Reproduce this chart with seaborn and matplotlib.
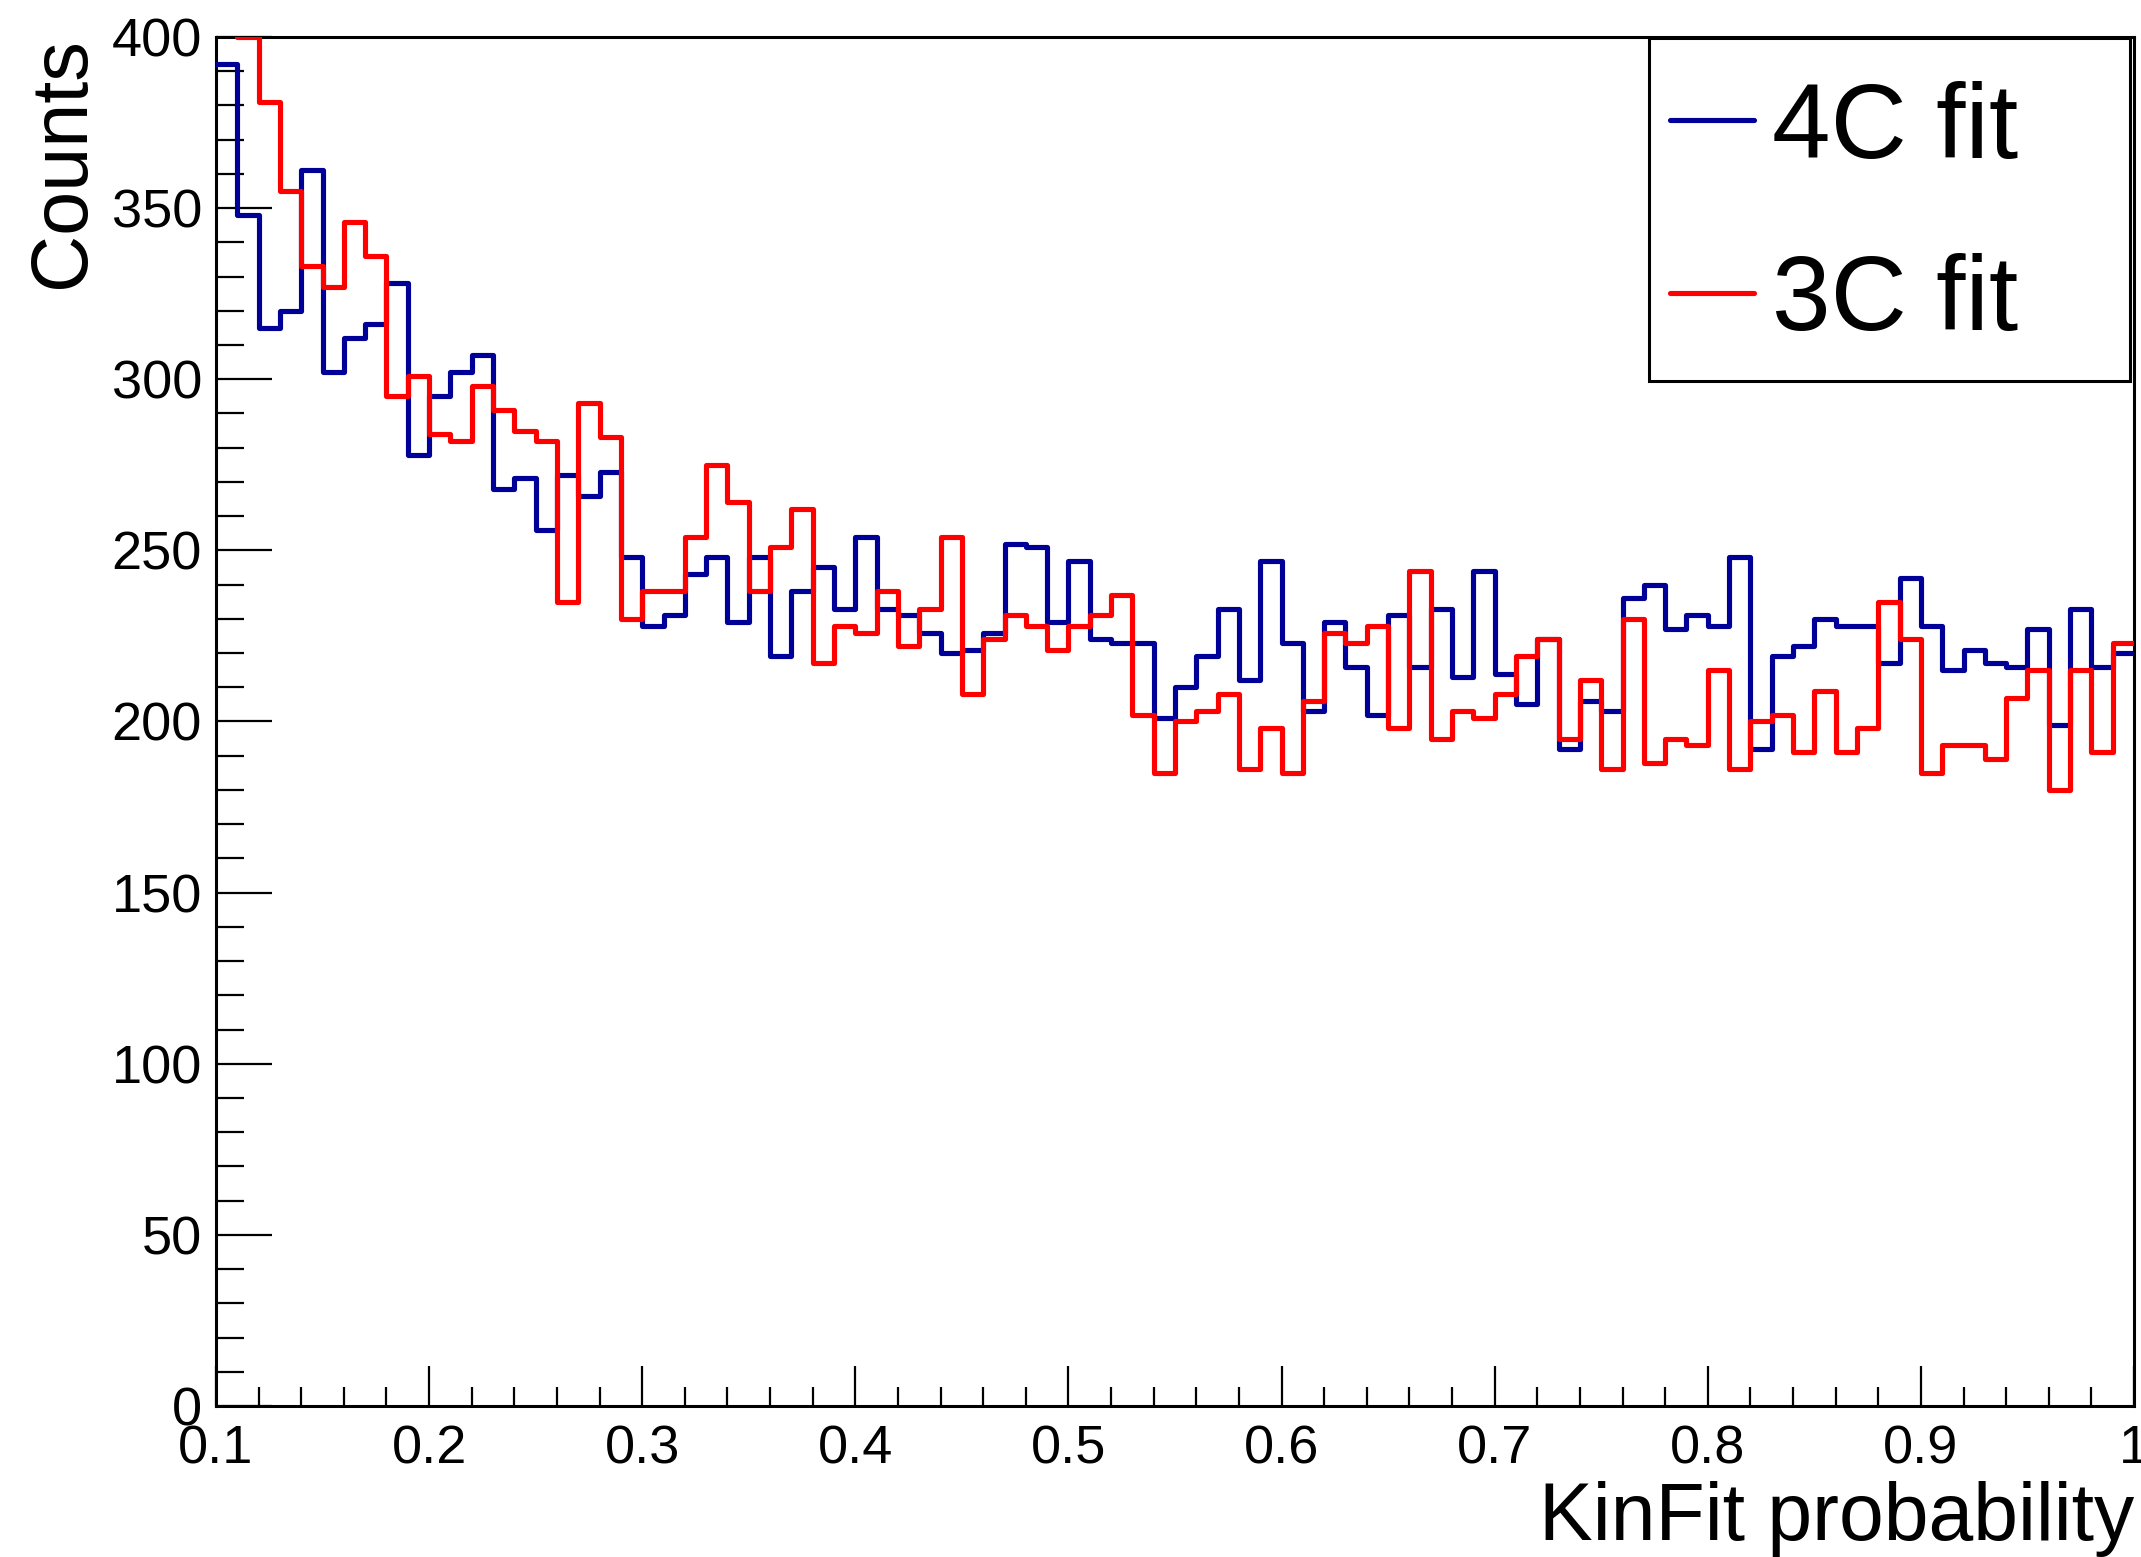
import numpy as np
import pandas as pd
import matplotlib
matplotlib.use("Agg")
import matplotlib.pyplot as plt
import seaborn as sns
from matplotlib.lines import Line2D
from matplotlib.legend_handler import HandlerLine2D
from matplotlib.ticker import MultipleLocator, FuncFormatter

# ---- data (bin counts, 90 bins of width 0.01 from 0.1 to 1.0) ----
x_min, x_max, n_bins = 0.1, 1.0, 90

counts_4c = [392, 348, 315, 320, 361, 302, 312, 316, 328, 278,
             295, 302, 307, 268, 271, 256, 272, 266, 273, 248,
             228, 231, 243, 248, 229, 248, 219, 238, 245, 233,
             254, 233, 231, 226, 220, 221, 226, 252, 251, 229,
             247, 224, 223, 223, 201, 210, 219, 233, 212, 247,
             223, 203, 229, 216, 202, 231, 216, 233, 213, 244,
             214, 205, 224, 192, 206, 203, 236, 240, 227, 231,
             228, 248, 192, 219, 222, 230, 228, 228, 217, 242,
             228, 215, 221, 217, 216, 227, 199, 233, 216, 220]

counts_3c = [420, 400, 381, 355, 333, 327, 346, 336, 295, 301,
             284, 282, 298, 291, 285, 282, 235, 293, 283, 230,
             238, 238, 254, 275, 264, 238, 251, 262, 217, 228,
             226, 238, 222, 233, 254, 208, 224, 231, 228, 221,
             228, 231, 237, 202, 185, 200, 203, 208, 186, 198,
             185, 206, 226, 223, 228, 198, 244, 195, 203, 201,
             208, 219, 224, 195, 212, 186, 230, 188, 195, 193,
             215, 186, 200, 202, 191, 209, 191, 198, 235, 224,
             185, 193, 193, 189, 207, 215, 180, 215, 191, 223]

series_labels = ["4C fit", "3C fit"]
x_label = "KinFit probability"
y_label = "Counts"

BLUE = "#000099"
RED = "#ff0000"

sns.set_style("white")
plt.rcParams["font.family"] = ["Liberation Sans", "DejaVu Sans"]
plt.rcParams["text.color"] = "black"
plt.rcParams["axes.labelcolor"] = "black"
plt.rcParams["xtick.color"] = "black"
plt.rcParams["ytick.color"] = "black"

bin_edges = np.linspace(x_min, x_max, n_bins + 1)
centers = (bin_edges[:-1] + bin_edges[1:]) / 2
df_4c = pd.DataFrame({"x": centers, "w": counts_4c})
df_3c = pd.DataFrame({"x": centers, "w": counts_3c})

fig = plt.figure(figsize=(21.41, 15.57), dpi=100)
ax = fig.add_axes([0.10089, 0.09698, 0.89584, 0.87926])

lw = 3.7
sns.histplot(data=df_4c, x="x", weights="w", bins=n_bins, binrange=(x_min, x_max),
             element="step", fill=False, color=BLUE, linewidth=lw, ax=ax, zorder=3)
sns.histplot(data=df_3c, x="x", weights="w", bins=n_bins, binrange=(x_min, x_max),
             element="step", fill=False, color=RED, linewidth=lw, ax=ax, zorder=3)

ax.set_xlim(x_min, x_max)
ax.set_ylim(0, 400)

# ROOT-like frame and ticks
for s in ax.spines.values():
    s.set_visible(True)
    s.set_linewidth(2.2)
    s.set_color("black")

ax.xaxis.set_major_locator(MultipleLocator(0.1))
ax.xaxis.set_minor_locator(MultipleLocator(0.02))
ax.yaxis.set_major_locator(MultipleLocator(50))
ax.yaxis.set_minor_locator(MultipleLocator(10))
ax.xaxis.set_major_formatter(FuncFormatter(lambda v, p: f"{round(v, 3):g}"))
ax.yaxis.set_major_formatter(FuncFormatter(lambda v, p: f"{v:g}"))

ax.tick_params(axis="both", which="both", direction="in", bottom=True, left=True,
               top=False, right=False, width=1.6, color="black",
               labelcolor="black", labelsize=39)
ax.tick_params(axis="y", which="major", length=40, pad=10)
ax.tick_params(axis="y", which="minor", length=20)
ax.tick_params(axis="x", which="major", length=29, pad=13)
ax.tick_params(axis="x", which="minor", length=13.5)

ax.set_xlabel(x_label, fontsize=58, loc="right", color="black")
ax.set_ylabel(y_label, fontsize=57, loc="top", color="black")
ax.xaxis.set_label_coords(1.0, -0.055)
ax.yaxis.set_label_coords(-0.060, 1.0)


class CapCenteredLine(HandlerLine2D):
    """Legend line placed at the height of the middle of the capital letters."""
    def create_artists(self, legend, orig_handle, xdescent, ydescent, width,
                       height, fontsize, trans):
        artists = super().create_artists(legend, orig_handle, xdescent, ydescent,
                                         width, height, fontsize, trans)
        for a in artists:
            xd = np.asarray(a.get_xdata(), dtype=float)
            a.set_ydata(np.full_like(xd, 0.358 * fontsize))
        return artists


handles = [Line2D([], [], color=BLUE, lw=lw), Line2D([], [], color=RED, lw=lw)]
leg = ax.legend(handles, series_labels, loc="upper left",
                bbox_to_anchor=(0.7471, 0.7495, 0.9979 - 0.7471, 0.9993 - 0.7495),
                mode="expand", fontsize=76, frameon=True, fancybox=False,
                edgecolor="black", framealpha=1, borderaxespad=0,
                handlelength=0.8, handletextpad=0.17, borderpad=0.2,
                handleheight=1.5, labelspacing=0.41,
                handler_map={Line2D: CapCenteredLine()})
leg.get_frame().set_linewidth(2.2)
leg.set_zorder(5)
for t in leg.get_texts():
    t.set_color("black")

fig.savefig("out.png", dpi=100, facecolor="white")
